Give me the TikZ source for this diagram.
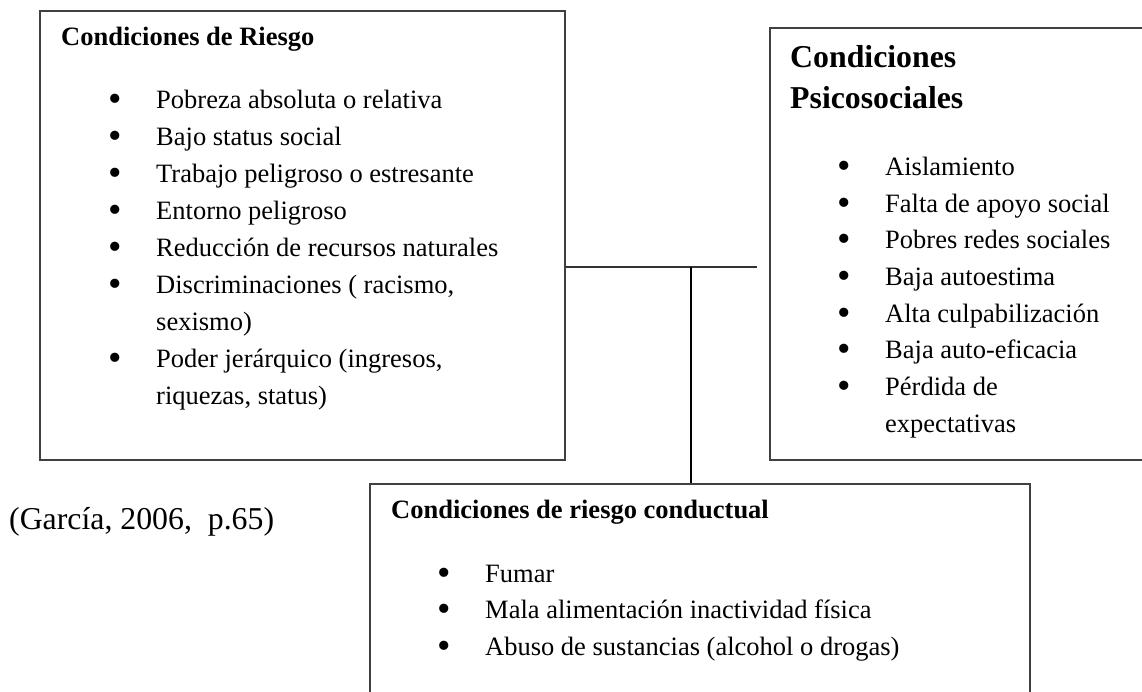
\documentclass[tikz,border=0pt]{standalone}
\usepackage{fontspec}
\setmainfont{Liberation Serif}
\usepackage{tikz}
\usetikzlibrary{positioning}

\tikzset{
  caja/.style={draw=black!75, line width=1.6pt, inner sep=0pt, anchor=north west},
  texto/.style={inner sep=0pt, anchor=base west, font=\fontsize{26.5}{37}\selectfont},
  titulo/.style={texto, font=\fontsize{26.5}{37}\selectfont\bfseries},
  linea/.style={draw=black!80, line width=1.3pt}
}
\newcommand{\bala}[1]{\makebox[48pt][l]{\raisebox{-3pt}{\scalebox{1.45}{\textbullet}}}#1}

\begin{document}
\begin{tikzpicture}[x=1pt,y=-1pt]
        \clip (0,0) rectangle (1142,691);

        % cajas
        \node[caja, minimum width=525pt, minimum height=449pt] (riesgo) at (39,10) {};
        \node[caja, minimum width=400pt, minimum height=432pt] (psico) at (769,27) {};
        \node[caja, minimum width=660pt, minimum height=240pt] (conducta) at (369,483) {};

        % condiciones de riesgo
        \node[titulo] (rtit) at (61,45) {Condiciones de Riesgo};
        \node[texto] (r1) at (108,108) {\bala{Pobreza absoluta o relativa}};
        \node[texto] (r2) at (108,145) {\bala{Bajo status social}};
        \node[texto] (r3) at (108,182) {\bala{Trabajo peligroso o estresante}};
        \node[texto] (r4) at (108,219) {\bala{Entorno peligroso}};
        \node[texto] (r5) at (108,256) {\bala{Reducción de recursos naturales}};
        \node[texto] (r6) at (108,293) {\bala{Discriminaciones ( racismo,}};
        \node[texto] (r6b) at (156,330) {sexismo)};
        \node[texto] (r7) at (108,367) {\bala{Poder jerárquico (ingresos,}};
        \node[texto] (r7b) at (156,404) {riquezas, status)};

        % condiciones psicosociales
        \node[texto, font=\fontsize{31.8}{41}\selectfont\bfseries] (ptit) at (790,67) {Condiciones};
        \node[texto, font=\fontsize{31.8}{41}\selectfont\bfseries] (ptitb) at (790,108) {Psicosociales};
        \node[texto] (p1) at (837,175) {\bala{Aislamiento}};
        \node[texto] (p2) at (837,212) {\bala{Falta de apoyo social}};
        \node[texto] (p3) at (837,248) {\bala{Pobres redes sociales}};
        \node[texto] (p4) at (837,285) {\bala{Baja autoestima}};
        \node[texto] (p5) at (837,322) {\bala{Alta culpabilización}};
        \node[texto] (p6) at (837,358) {\bala{Baja auto-eficacia}};
        \node[texto] (p7) at (837,395) {\bala{Pérdida de}};
        \node[texto] (p7b) at (885,432) {expectativas};

        % condiciones de riesgo conductual
        \node[titulo] (ctit) at (391,518) {Condiciones de riesgo conductual};
        \node[texto] (c1) at (437,582) {\bala{Fumar}};
        \node[texto] (c2) at (437,618) {\bala{Mala alimentación inactividad física}};
        \node[texto] (c3) at (437,655) {\bala{Abuso de sustancias (alcohol o drogas)}};

        % cita
        \node[texto, font=\fontsize{31.8}{40}\selectfont] (cita) at (9,529) {(García, 2006,\ \ p.65)};

        % conectores
        \coordinate (junta) at (691,267);
        \coordinate (tope) at (757,267);
        \draw[linea] (riesgo.east |- junta) -- (tope);
        \draw[linea, line width=1.1pt, draw=black] (junta) -- (junta |- conducta.north);
\end{tikzpicture}
\end{document}
